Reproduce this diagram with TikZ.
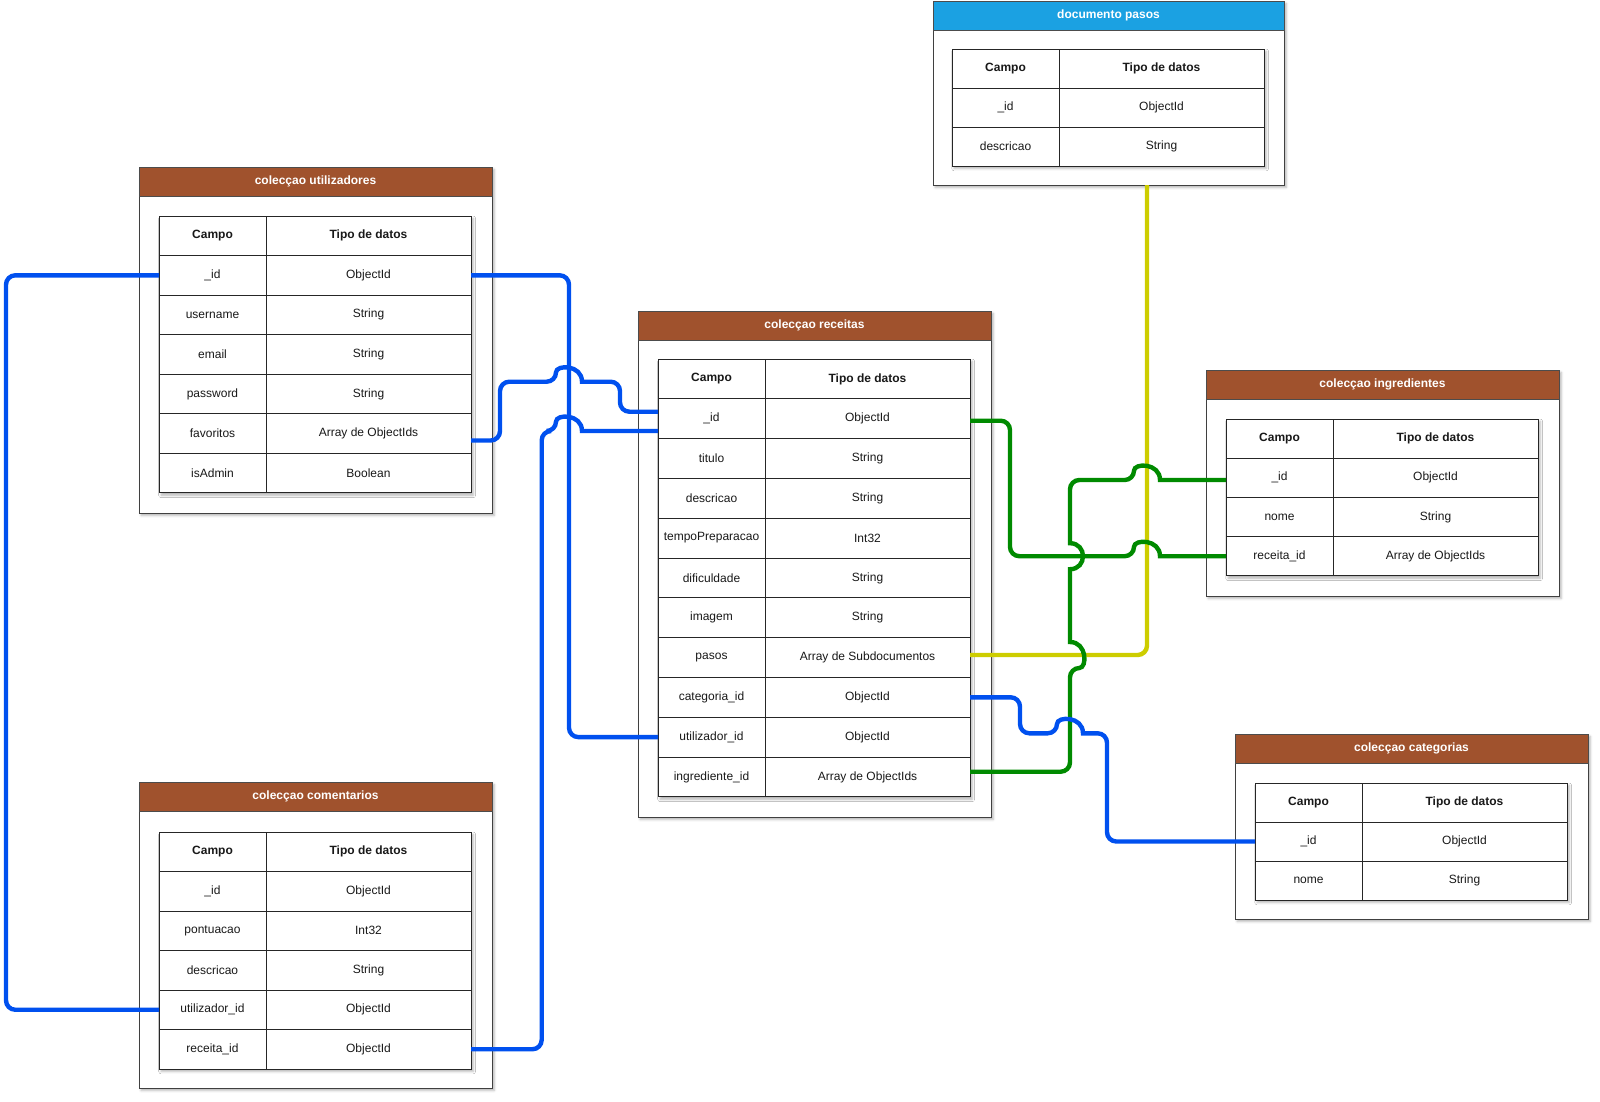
\documentclass[tikz,border=0pt]{standalone}
\usepackage{fontspec}
\setmainfont{Liberation Sans}
\usetikzlibrary{calc,shadows.blur}

\definecolor{brownhead}{RGB}{160,82,45}
\definecolor{bluehead}{RGB}{27,161,226}
\definecolor{cblue}{RGB}{0,80,239}
\definecolor{cgreen}{RGB}{0,138,0}
\definecolor{cyellow}{RGB}{205,205,0}

\newcommand\txtfont{\fontsize{9}{11}\selectfont}
\newcommand\hdfont{\bfseries\fontsize{9}{11}\selectfont}

\tikzset{
  softshadow/.style={blur shadow={shadow xshift=1.6pt,shadow yshift=-1.8pt,shadow blur radius=1.8pt,shadow opacity=30}},
  boxst/.style={draw=black!75,line width=0.75pt,fill=white,inner sep=0pt,outer sep=0pt,softshadow},
  headst/.style={draw=black!70,line width=0.75pt,inner sep=0pt,outer sep=0pt,text=white,font=\hdfont},
  tframe/.style={draw=black!85,line width=0.75pt,fill=white,inner sep=0pt,outer sep=0pt,softshadow},
  cellA/.style={draw=black!85,line width=0.75pt,fill=white,inner sep=0pt,outer sep=0pt,minimum width=80.25pt,font=\txtfont,text=black!90},
  cellB/.style={draw=black!85,line width=0.75pt,fill=white,inner sep=0pt,outer sep=0pt,minimum width=153.75pt,font=\txtfont,text=black!90},
  conn/.style={line width=3.3pt,rounded corners=7pt},
}

% #1 prefix, #2 x-left, #3 y-top, #4 row height, #5 rows (incl. header), #6 data rows
\newcommand\dbtab[6]{%
  \node[tframe,minimum width=234pt,minimum height={#4*#5*0.75pt}] (#1-frame) at ({#2+156},{#3+#4*#5/2}) {};
  \node[cellA,minimum height={#4*0.75pt},font=\hdfont] (#1-0-a) at ({#2+53.5},{#3+#4/2}) {Campo};
  \node[cellB,minimum height={#4*0.75pt},font=\hdfont] (#1-0-b) at ({#2+209.5},{#3+#4/2}) {Tipo de datos};
  \foreach \ca/\cb [count=\i] in {#6} {
    \node[cellA,minimum height={#4*0.75pt}] (#1-\i-a) at ({#2+53.5},{#3+(\i+0.5)*#4}) {\ca};
    \node[cellB,minimum height={#4*0.75pt}] (#1-\i-b) at ({#2+209.5},{#3+(\i+0.5)*#4}) {\cb};
  }
}

% #1 name, #2 x1, #3 y1, #4 x2, #5 y2, #6 title, #7 colour
\newcommand\dbbox[7]{%
  \node[boxst,minimum width={(#4-#2)*0.75pt},minimum height={(#5-#3)*0.75pt}] (#1-box) at ({(#2+#4)/2},{(#3+#5)/2}) {};
  \node[headst,fill=#7,minimum width={(#4-#2)*0.75pt},minimum height={29*0.75pt}] (#1-head) at ({(#2+#4)/2},{#3+14.5}) {#6};
}

\begin{document}
\begin{tikzpicture}[x=0.75pt,y=-0.75pt]
\useasboundingbox (0,0) rectangle (1600,1101);

% documento pasos
\dbbox{p}{933}{1}{1284}{185}{documento pasos}{bluehead}
\dbtab{p}{952}{49}{39}{3}{\_id/ObjectId,descricao/String}

% utilizadores
\dbbox{u}{139}{167}{492}{513}{colecçao utilizadores}{brownhead}
\dbtab{u}{159}{216}{39.55}{7}{\_id/ObjectId,username/String,email/String,password/String,favoritos/Array de ObjectIds,isAdmin/Boolean}

% receitas
\dbbox{r}{638}{311}{991}{817}{colecçao receitas}{brownhead}
\dbtab{r}{658}{359}{39.8}{11}{\_id/ObjectId,titulo/String,descricao/String,tempoPreparacao/Int32,dificuldade/String,imagem/String,pasos/Array de Subdocumentos,categoria\_id/ObjectId,utilizador\_id/ObjectId,ingrediente\_id/Array de ObjectIds}

% ingredientes
\dbbox{i}{1206}{370}{1559}{596}{colecçao ingredientes}{brownhead}
\dbtab{i}{1226}{419}{39.2}{4}{\_id/ObjectId,nome/String,receita\_id/Array de ObjectIds}

% categorias
\dbbox{k}{1235}{734}{1588}{919}{colecçao categorias}{brownhead}
\dbtab{k}{1255}{783}{39}{3}{\_id/ObjectId,nome/String}

% comentarios
\dbbox{c}{139}{782}{492}{1088}{colecçao comentarios}{brownhead}
\dbtab{c}{159}{832}{39.5}{6}{\_id/ObjectId,pontuacao/Int32,descricao/String,utilizador\_id/ObjectId,receita\_id/ObjectId}

% ---- connectors ----
% utilizadores._id -> receitas.utilizador_id
\draw[conn,cblue] (u-1-b.east) -- (569,275.3) -- (569,737.1) -- (r-9-a.west);
% utilizadores.favoritos -> receitas._id
\draw[conn,cblue] ($(u-5-b.east)+(0,7)$) -- (500,440.5) -- (500,381.7) -- (556,381.7) [sharp corners]
  .. controls (556,364.4) and (582,364.4) .. (582,381.7) -- (584,381.7) [rounded corners=7pt] -- (620,381.7) -- (620,411.7) -- ($(r-1-a.west)+(0,-7)$);
% comentarios.receita_id -> receitas._id
\draw[conn,cblue] (c-5-b.east) -- (541.7,1049.25) -- (541.7,431) -- (556,431) [sharp corners]
  .. controls (556,413.7) and (582,413.7) .. (582,431) -- ($(r-1-a.west)+(0,12.3)$);
% comentarios.utilizador_id -> utilizadores._id
\draw[conn,cblue] (c-4-a.west) -- (6,1009.75) -- (6,275.3) -- (u-1-a.west);

% receitas.pasos -> documento pasos
\draw[conn,cyellow] ($(r-7-b.east)+(0,-2.5)$) -- (1147,655) -- ($(p-box.south)+(38.5,0)$);

% receitas._id -> ingredientes.receita_id
\draw[conn,cgreen] ($(r-1-b.east)+(0,2)$) -- (1010,420.7) -- (1010,556.2) -- (1134,556.2) [sharp corners]
  .. controls (1134,538.9) and (1160,538.9) .. (1160,556.2) -- (i-3-a.west);
% receitas.ingrediente_id -> ingredientes._id
\draw[conn,cgreen] ($(r-10-b.east)+(0,-5.2)$) -- (1070,771.7) -- (1070,668) [sharp corners]
  .. controls (1087.3,668) and (1087.3,642) .. (1070,642) -- (1070,569.2)
  .. controls (1087.3,569.2) and (1087.3,543.2) .. (1070,543.2) -- (1070,541) [rounded corners=7pt] -- (1070,480) -- (1134,480) [sharp corners]
  .. controls (1134,462.7) and (1160,462.7) .. (1160,480) -- ($(i-1-a.west)+(0,2.2)$);

% receitas.categoria_id -> categorias._id
\draw[conn,cblue] (r-8-b.east) -- (1020,697.3) -- (1020,733.3) -- (1057,733.3) [sharp corners]
  .. controls (1057,716) and (1083,716) .. (1083,733.3) -- (1085,733.3) [rounded corners=7pt] -- (1107,733.3) -- (1107,841.5) -- (k-1-a.west);

\end{tikzpicture}
\end{document}
